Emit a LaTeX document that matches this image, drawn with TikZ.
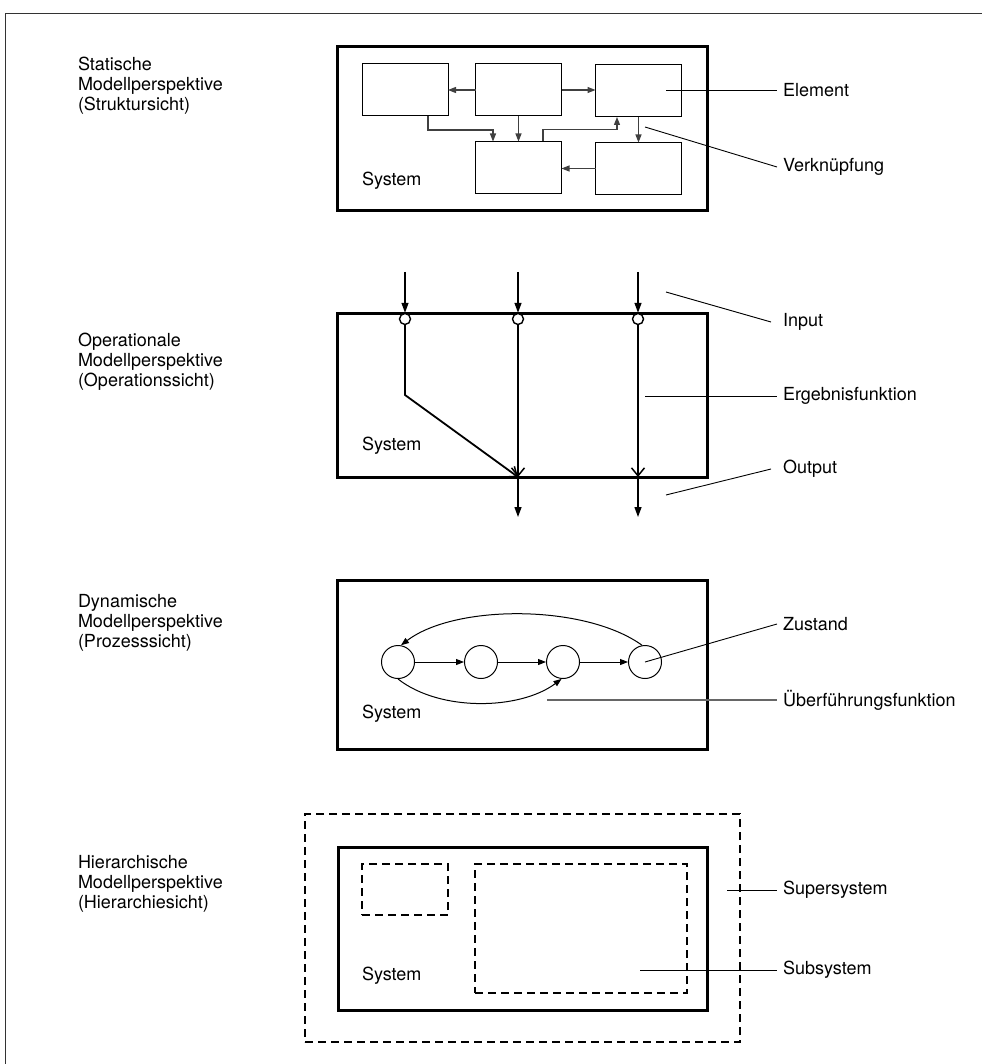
\documentclass[tikz,border=0pt]{standalone}
\usepackage{fontspec}
\setmainfont{TeX Gyre Heros}
\usetikzlibrary{arrows.meta,calc}
\begin{document}
\begin{tikzpicture}[x=1pt,y=-1pt,
  txt/.style={font=\fontsize{18}{20}\selectfont, inner sep=0pt, outer sep=0pt},
  side/.style={txt, align=left, anchor=west},
  rlab/.style={txt, anchor=west},
  sysbox/.style={draw, line width=3pt, inner sep=0pt, outer sep=0pt},
  elem/.style={draw, line width=1pt, inner sep=0pt, outer sep=0pt, minimum width=86pt, minimum height=52pt},
  dbox/.style={draw, line width=2.2pt, dash pattern=on 8pt off 5pt, inner sep=0pt, outer sep=0pt},
  conn/.style={draw=black!75, line width=1.2pt, -{Triangle[length=8pt,width=6pt]}},
  lead/.style={draw, line width=0.9pt},
  opl/.style={draw, line width=1.8pt},
  farr/.style={opl, line width=1.3pt, -{Triangle[length=10pt,width=7pt]}},
  barb/.style={opl, -{Straight Barb[length=8pt,width=13pt,line width=1.5pt]}},
  port/.style={circle, draw, fill=white, line width=1.4pt, minimum size=11pt, inner sep=0pt},
  state/.style={circle, draw, fill=white, line width=1pt, minimum size=33pt, inner sep=0pt}]
\useasboundingbox (0,0) rectangle (982,1064);
% frame
\draw[line width=1pt, black!80] (5,1064) -- (5,14) -- (982,14);

% ---------- Statische Modellperspektive ----------
\node[side] (l1) at (78,86) {Statische\\Modellperspektive\\(Struktursicht)};
\node[sysbox, minimum width=370pt, minimum height=164pt] (s1) at (522,129) {};
\node[elem] (A) at (405,90) {};
\node[elem] (B) at (518.5,90) {};
\node[elem] (C) at (638.5,91) {};
\node[elem] (D) at (518.5,167.5) {};
\node[elem] (E) at (638.5,168.5) {};
\node[txt, anchor=west] (sys1) at (362,181) {System};
\draw[conn] (B.west) -- (A.east);
\draw[conn] (B.east) -- (B.east -| C.west);
\draw[conn] (B.south) -- (D.north);
\draw[conn] ([xshift=23pt]A.south) -- ++(0,14) -| ([xshift=-25.5pt]D.north);
\draw[conn] ([xshift=24.5pt]D.north) -- ++(0,-12) -| ([xshift=-21.5pt]C.south);
\draw[conn] (C.south) -- (C.south |- E.north);
\draw[conn] (E.west) -- (E.west -| D.east);
\node[rlab] (lelem) at (783,90) {Element};
\node[rlab] (lverk) at (783,167) {Verknüpfung};
\coordinate (pelem) at (666,90);
\coordinate (pverk) at (645,127);
\draw[lead] (pelem) -- ([xshift=-6pt]lelem.west);
\draw[lead] (pverk) -- ([xshift=-6pt]lverk.west);

% ---------- Operationale Modellperspektive ----------
\node[side] (l2) at (78,362) {Operationale\\Modellperspektive\\(Operationssicht)};
\node[sysbox, minimum width=370pt, minimum height=164pt] (s2) at (522,395) {};
\node[txt, anchor=west] (sys2) at (362,446) {System};
\coordinate (a1) at (405,272);
\coordinate (a2) at (518,272);
\coordinate (a3) at (638,272);
\coordinate (b1) at (405,395);
\coordinate (o2) at (518,477);
\coordinate (o3) at (638,477);
\coordinate (e2) at (518,517);
\coordinate (e3) at (638,517);
\draw[barb] (405,320) -- (b1) -- (o2);
\draw[barb] (518,320) -- (o2);
\draw[barb] (638,320) -- (o3);
\node[port] (i1) at (405,319) {};
\node[port] (i2) at (518,319) {};
\node[port] (i3) at (638,319) {};
\draw[farr] (a1) -- (i1.north);
\draw[farr] (a2) -- (i2.north);
\draw[farr] (a3) -- (i3.north);
\draw[farr] (o2) -- (e2);
\draw[farr] (o3) -- (e3);
\node[rlab] (linp) at (783,322) {Input};
\node[rlab] (lerg) at (783,396) {Ergebnisfunktion};
\node[rlab] (lout) at (783,469) {Output};
\coordinate (pinp) at (666,292);
\coordinate (perg) at (645,396);
\coordinate (pout) at (666,495);
\draw[lead] (pinp) -- ([xshift=-12pt]linp.west);
\draw[lead] (perg) -- ([xshift=-6pt]lerg.west);
\draw[lead] (pout) -- ([xshift=-12pt]lout.west);

% ---------- Dynamische Modellperspektive ----------
\node[side] (l3) at (78,623) {Dynamische\\Modellperspektive\\(Prozesssicht)};
\node[sysbox, minimum width=370pt, minimum height=169pt] (s3) at (522,664.5) {};
\node[txt, anchor=west] (sys3) at (362,714) {System};
\node[state] (z1) at (398,662) {};
\node[state] (z2) at (481,662) {};
\node[state] (z3) at (563,662) {};
\node[state] (z4) at (645,662) {};
\draw[conn, black, line width=1pt] (z1.east) -- (z2.west);
\draw[conn, black, line width=1pt] (z2.east) -- (z3.west);
\draw[conn, black, line width=1pt] (z3.east) -- (z4.west);
\draw[conn, black, line width=1pt] (z4.100) .. controls (585,604) and (455,604) .. (z1.80);
\draw[conn, black, line width=1pt] (z1.south) .. controls (440,712) and (520,710) .. (z3.265);
\node[rlab] (lzus) at (783,624) {Zustand};
\node[rlab] (luef) at (783,700) {Überführungsfunktion};
\draw[lead] (z4.center) -- ([xshift=-6pt]lzus.west);
\coordinate (puef) at (547,700);
\draw[lead, black!60, line width=1.2pt] (puef) -- ([xshift=-6pt]luef.west);

% ---------- Hierarchische Modellperspektive ----------
\node[side] (l4) at (78,884) {Hierarchische\\Modellperspektive\\(Hierarchiesicht)};
\node[dbox, minimum width=435pt, minimum height=228pt] (sup) at (522.5,928) {};
\node[sysbox, minimum width=369pt, minimum height=163pt] (s4) at (522.5,928.5) {};
\node[dbox, minimum width=86pt, minimum height=51pt] (sub1) at (405,889.5) {};
\node[dbox, minimum width=212pt, minimum height=129pt] (sub2) at (581,928.5) {};
\node[txt, anchor=west] (sys4) at (362,976) {System};
\node[rlab] (lsup) at (783,890) {Supersystem};
\node[rlab] (lsub) at (783,970) {Subsystem};
\coordinate (psup) at (727,890);
\coordinate (psub) at (640,970);
\draw[lead] (psup) -- ([xshift=-6pt]lsup.west);
\draw[lead] (psub) -- ([xshift=-6pt]lsub.west);
\end{tikzpicture}
\end{document}
